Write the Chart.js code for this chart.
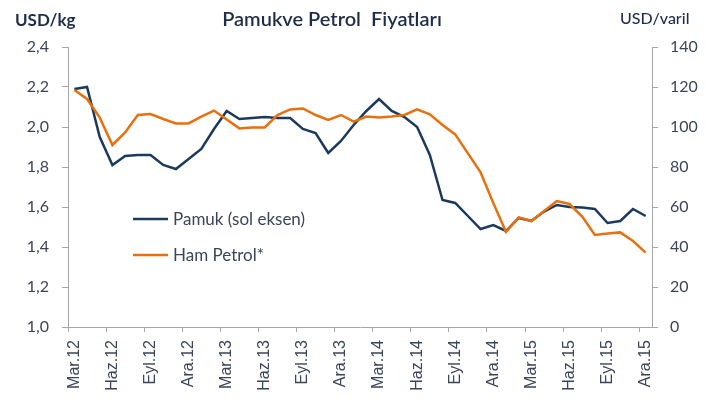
<!DOCTYPE html>
<html>
<head>
<meta charset="utf-8">
<script src="https://cdn.jsdelivr.net/npm/chart.js@4/dist/chart.umd.min.js"></script>
<style>
  html, body { margin: 0; padding: 0; background: #fff; }
  #wrap { width: 716px; height: 401px; position: relative; }
</style>
</head>
<body>
<div id="wrap"><canvas id="chart"></canvas></div>
<script>
// Monthly, Mar 2012 – Dec 2015
const months = [
  'Mar.12','Nis.12','May.12','Haz.12','Tem.12','Ağu.12','Eyl.12','Eki.12','Kas.12','Ara.12','Oca.13','Şub.13',
  'Mar.13','Nis.13','May.13','Haz.13','Tem.13','Ağu.13','Eyl.13','Eki.13','Kas.13','Ara.13','Oca.14','Şub.14',
  'Mar.14','Nis.14','May.14','Haz.14','Tem.14','Ağu.14','Eyl.14','Eki.14','Kas.14','Ara.14','Oca.15','Şub.15',
  'Mar.15','Nis.15','May.15','Haz.15','Tem.15','Ağu.15','Eyl.15','Eki.15','Kas.15','Ara.15'
];

// Pamuk, USD/kg (left axis)
const cotton = [
  2.19, 2.20, 1.95, 1.81, 1.855, 1.86, 1.86, 1.81, 1.79, 1.84,
  1.89, 1.99, 2.08, 2.04, 2.045, 2.05, 2.045, 2.045, 1.99, 1.97,
  1.87, 1.93, 2.01, 2.08, 2.14, 2.08, 2.05, 2.00, 1.86, 1.635,
  1.62, 1.555, 1.49, 1.51, 1.48, 1.545, 1.53, 1.577, 1.61, 1.60,
  1.597, 1.59, 1.52, 1.53, 1.59, 1.555
];

// Ham petrol, USD/varil (right axis)
const oil = [
  118.5, 114, 104.7, 91, 97.3, 106, 106.5, 104, 101.8, 101.8,
  105.2, 108.2, 103.7, 99.3, 99.8, 99.8, 106, 108.8, 109.3, 106,
  103.5, 106, 102.7, 105.2, 104.7, 105.2, 106, 108.8, 106.3, 101,
  96.3, 86.8, 77.3, 62, 47.5, 54.8, 53, 58, 63, 61.5,
  55.2, 46, 46.8, 47.3, 43, 37.2
];

const NAVY = '#1b3a5e';
const ORANGE = '#e8700e';
const AXIS = '#a6a6a6';
const TICK_TEXT = '#3c4658';
const HEAD = '#1f2d4a';
const FONT = 'Lato, "Open Sans", sans-serif';

// titles, units and the in-plot legend
const annotations = {
  id: 'annotations',
  afterDraw(chart) {
    const ctx = chart.ctx;
    ctx.save();
    ctx.fillStyle = HEAD;
    ctx.textBaseline = 'alphabetic';
    ctx.font = '600 20px ' + FONT;
    ctx.textAlign = 'center';
    ctx.fillText('Pamukve Petrol  Fiyatları', 332, 26);
    ctx.font = 'bold 17px ' + FONT;
    ctx.textAlign = 'left';
    ctx.fillText('USD/kg', 15, 26);
    ctx.font = '500 16px ' + FONT;
    ctx.fillText('USD/varil', 620, 24);

    const items = [
      { text: 'Pamuk (sol eksen)', color: NAVY, y: 219 },
      { text: 'Ham Petrol*', color: ORANGE, y: 255 }
    ];
    ctx.font = '17px ' + FONT;
    ctx.textAlign = 'left';
    ctx.textBaseline = 'middle';
    for (const it of items) {
      ctx.beginPath();
      ctx.moveTo(133, it.y);
      ctx.lineTo(168, it.y);
      ctx.lineWidth = 2.5;
      ctx.strokeStyle = it.color;
      ctx.stroke();
      ctx.fillStyle = TICK_TEXT;
      ctx.fillText(it.text, 173, it.y + 1);
    }
    ctx.restore();
  }
};

new Chart(document.getElementById('chart'), {
  type: 'line',
  plugins: [annotations],
  data: {
    labels: months,
    datasets: [
      {
        label: 'Pamuk (sol eksen)',
        data: cotton,
        yAxisID: 'y',
        borderColor: NAVY,
        borderWidth: 2.5,
        pointRadius: 0,
        tension: 0,
        order: 2
      },
      {
        label: 'Ham Petrol*',
        data: oil,
        yAxisID: 'y1',
        borderColor: ORANGE,
        borderWidth: 2.5,
        pointRadius: 0,
        tension: 0,
        order: 1
      }
    ]
  },
  options: {
    responsive: true,
    maintainAspectRatio: false,
    animation: false,
    layout: { padding: { top: 47, left: 0, right: 0, bottom: 0 } },
    plugins: {
      legend: { display: false },
      tooltip: { enabled: false }
    },
    scales: {
      x: {
        type: 'category',
        offset: true,
        afterFit: (s) => { s.height = 74; },
        grid: {
          offset: true,
          drawOnChartArea: false,
          drawTicks: true,
          tickLength: 5,
          color: (c) => (c.index !== undefined && c.index % 3 === 0) ? AXIS : 'rgba(0,0,0,0)'
        },
        border: { color: AXIS, width: 1 },
        ticks: {
          autoSkip: false,
          maxRotation: 90,
          minRotation: 90,
          padding: 8,
          color: TICK_TEXT,
          font: { family: '"Liberation Sans", Arial, sans-serif', size: 16 },
          callback: function (v, i) { return i % 3 === 0 ? months[i] : ''; }
        }
      },
      y: {
        position: 'left',
        min: 1.0,
        max: 2.4,
        afterFit: (s) => { s.width = 68; },
        grid: { drawOnChartArea: false, tickLength: 6, color: AXIS },
        border: { color: AXIS, width: 1 },
        ticks: {
          stepSize: 0.2,
          padding: 13,
          color: TICK_TEXT,
          font: { family: FONT, size: 16 },
          callback: (v) => v.toFixed(1).replace('.', ',')
        }
      },
      y1: {
        position: 'right',
        min: 0,
        max: 140,
        afterFit: (s) => { s.width = 64; },
        grid: { drawOnChartArea: false, tickLength: 6, color: AXIS },
        border: { color: AXIS, width: 1 },
        ticks: {
          stepSize: 20,
          padding: 12,
          color: TICK_TEXT,
          font: { family: FONT, size: 16 }
        }
      }
    }
  }
});
</script>
</body>
</html>
